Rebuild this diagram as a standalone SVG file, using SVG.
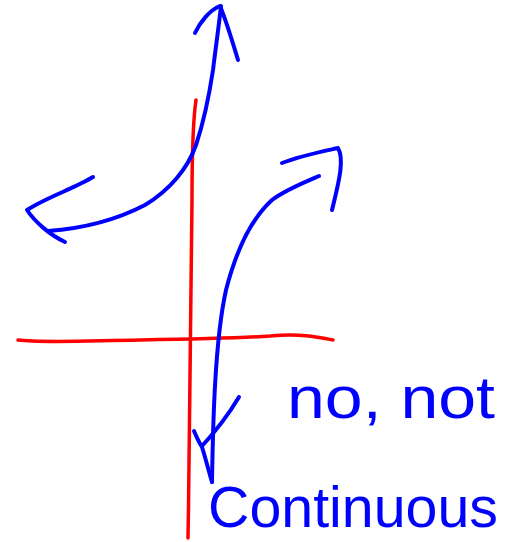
<svg xmlns="http://www.w3.org/2000/svg" width="512" height="542" viewBox="0 0 512 542">
<style>
.red{fill:none;stroke:#ff0000;stroke-width:3.5;stroke-linecap:round;stroke-linejoin:round}
.blue{fill:none;stroke:#0000ff;stroke-width:4;stroke-linecap:round;stroke-linejoin:round}
.hand{fill:#0000ff;font-family:"Liberation Sans","DejaVu Sans",sans-serif}
</style>
<rect width="512" height="542" fill="#ffffff"/>
<g id="axes">
<path class="red" d="M196,100 C193,120 192,160 192,200 C191,300 190,420 188,538"/>
<path class="red" d="M18,340 C40,343 80,341 140,340 C200,339 240,338 270,336 C300,333 318,337 333,340"/>
</g>
<g id="curve-left">
<path class="blue" d="M48,231 C90,228 120,218 145,205 C170,190 188,168 196,145 C205,118 210,90 213,70 C216,45 219,25 221,6"/>
<path class="blue" d="M93,177 C75,188 45,198 27,210 C35,222 50,235 65,242"/>
<path class="blue" d="M195,33 C200,22 210,10 220,6 C226,20 232,40 238,60"/>
</g>
<g id="curve-right">
<path class="blue" d="M319,176 C305,182 285,190 272,200 C250,220 235,255 226,290 C215,340 213,420 212,482"/>
<path class="blue" d="M282,163 C300,156 320,152 338,148 C345,160 338,185 332,210"/>
<path class="blue" d="M239,397 C230,412 215,432 202,446"/>
<path class="blue" d="M194,431 C197,438 200,444 202,447 C206,460 209,472 212,482"/>
</g>
<g id="label">
<text class="hand" x="287" y="418" font-size="60" textLength="208" lengthAdjust="spacingAndGlyphs">no, not</text>
<text class="hand" x="208" y="527" font-size="58" textLength="290" lengthAdjust="spacingAndGlyphs">Continuous</text>
</g>
</svg>
